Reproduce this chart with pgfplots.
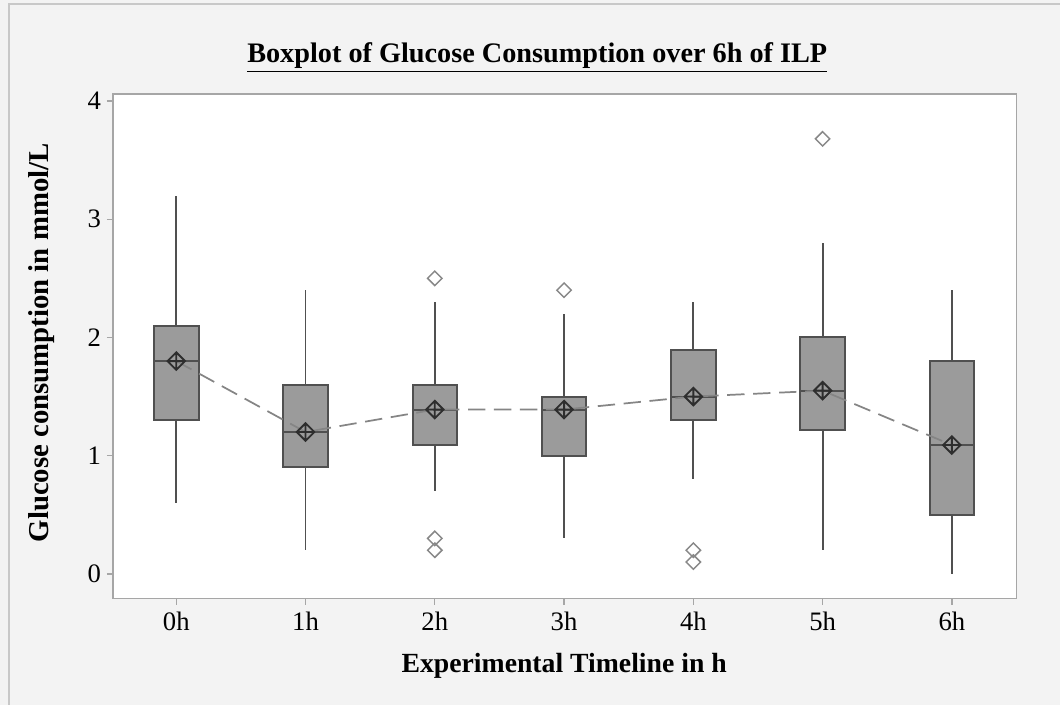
\documentclass[border=0pt]{standalone}
\usepackage{fontspec}
\setmainfont{Liberation Serif}
\usepackage{pgfplots}
\pgfplotsset{compat=1.18}
\usepgfplotslibrary{statistics}
\definecolor{bgc}{HTML}{F3F3F3}
\definecolor{framec}{HTML}{A6A6A6}
\definecolor{borderc}{HTML}{C8C8C8}
\definecolor{boxfill}{HTML}{9B9B9B}
\definecolor{boxedge}{HTML}{505050}
\definecolor{meanc}{HTML}{2E2E2E}
\definecolor{outc}{HTML}{888888}
\definecolor{dashc}{HTML}{858585}
\pgfdeclareplotmark{dplus}{%
  \pgfpathmoveto{\pgfqpoint{0pt}{\pgfplotmarksize}}%
  \pgfpathlineto{\pgfqpoint{\pgfplotmarksize}{0pt}}%
  \pgfpathlineto{\pgfqpoint{0pt}{-\pgfplotmarksize}}%
  \pgfpathlineto{\pgfqpoint{-\pgfplotmarksize}{0pt}}%
  \pgfpathclose
  \pgfpathmoveto{\pgfqpoint{0pt}{\pgfplotmarksize}}%
  \pgfpathlineto{\pgfqpoint{0pt}{-\pgfplotmarksize}}%
  \pgfpathmoveto{\pgfqpoint{-\pgfplotmarksize}{0pt}}%
  \pgfpathlineto{\pgfqpoint{\pgfplotmarksize}{0pt}}%
  \pgfusepathqstroke
}
\pgfdeclareplotmark{sqdiamond}{%
  \pgfpathmoveto{\pgfqpoint{0pt}{\pgfplotmarksize}}%
  \pgfpathlineto{\pgfqpoint{\pgfplotmarksize}{0pt}}%
  \pgfpathlineto{\pgfqpoint{0pt}{-\pgfplotmarksize}}%
  \pgfpathlineto{\pgfqpoint{-\pgfplotmarksize}{0pt}}%
  \pgfpathclose
  \pgfusepathqstroke
}
\pgfplotstableread{
pos med uq lq uw lw
0 1.80 2.10 1.30 3.20 0.60
1 1.20 1.60 0.90 2.40 0.20
2 1.39 1.60 1.09 2.30 0.70
3 1.39 1.50 1.00 2.20 0.30
4 1.50 1.89 1.30 2.30 0.80
5 1.55 2.00 1.22 2.80 0.20
6 1.09 1.80 0.50 2.40 0.00
}\boxdata
\newcommand{\bx}[1]{%
  \pgfplotstablegetelem{#1}{med}\of\boxdata\edef\vmed{\pgfplotsretval}%
  \pgfplotstablegetelem{#1}{uq}\of\boxdata\edef\vuq{\pgfplotsretval}%
  \pgfplotstablegetelem{#1}{lq}\of\boxdata\edef\vlq{\pgfplotsretval}%
  \pgfplotstablegetelem{#1}{uw}\of\boxdata\edef\vuw{\pgfplotsretval}%
  \pgfplotstablegetelem{#1}{lw}\of\boxdata\edef\vlw{\pgfplotsretval}%
  \edef\tmp{\noexpand\addplot[boxplot prepared={draw position=#1, median=\vmed, upper quartile=\vuq, lower quartile=\vlq, upper whisker=\vuw, lower whisker=\vlw, box extend=0.345, whisker extend=0}] coordinates {};}%
  \tmp
}
\begin{document}
\begin{tikzpicture}
\fill[bgc] (-84.75pt,-79.5pt) rectangle (711pt,449.25pt);
\draw[borderc, line width=0.8pt] (-78pt,-79.5pt) -- (-78pt,446.25pt) -- (711pt,446.25pt);
\begin{axis}[
  scale only axis,
  width=678pt, height=378.75pt,
  xmin=-0.49, xmax=6.5, ymin=-0.21, ymax=4.06,
  axis background/.style={fill=white},
  axis line style={framec, line width=1pt},
  tick style={framec, line width=1pt},
  tick align=outside,
  major tick length=4.5pt,
  xtick={0,1,2,3,4,5,6},
  xticklabels={0h,1h,2h,3h,4h,5h,6h},
  ytick={0,1,2,3,4},
  xtick pos=bottom, ytick pos=left,
  ticklabel style={font=\fontsize{20}{24}\selectfont, text=black},
  xticklabel style={yshift=-2pt},
  yticklabel style={xshift=-1pt},
  /pgf/number format/assume math mode=true,
  boxplot/draw direction=y,
  boxplot/every box/.style={draw=boxedge, fill=boxfill, line width=1.5pt},
  boxplot/every whisker/.style={draw=boxedge, line width=1.4pt},
  boxplot/every median/.style={draw=boxedge, line width=1.5pt},
  clip=false,
]
\pgfplotsinvokeforeach{0,...,6}{\bx{#1}}
\addplot[only marks, mark=sqdiamond, mark size=5.4pt, draw=outc, mark options={line width=1.1pt}] coordinates {
(2,2.5) (2,0.3) (2,0.2) (3,2.4) (4,0.2) (4,0.1) (5,3.68)};
\addplot[dashc, line width=1.3pt, dash pattern=on 13pt off 6.5pt, mark=none] coordinates {
(0,1.80) (1,1.20) (2,1.39) (3,1.39) (4,1.50) (5,1.55) (6,1.09)};
\addplot[only marks, mark=dplus, mark size=6.6pt, draw=meanc, mark options={line width=1.4pt}] coordinates {
(0,1.80) (1,1.20) (2,1.39) (3,1.39) (4,1.50) (5,1.55) (6,1.09)};
\end{axis}
\node[anchor=base, font=\fontsize{21.2}{25}\selectfont\bfseries] at (318.4pt,402pt) {\underline{Boxplot of Glucose Consumption over 6h of ILP}};
\node[anchor=base, font=\fontsize{20.8}{25}\selectfont\bfseries] at (338.6pt,-55.5pt) {Experimental Timeline in h};
\node[rotate=90, font=\fontsize{21.6}{25}\selectfont\bfseries] at (-53.5pt,192pt) {Glucose consumption in mmol/L};
\end{tikzpicture}
\end{document}
